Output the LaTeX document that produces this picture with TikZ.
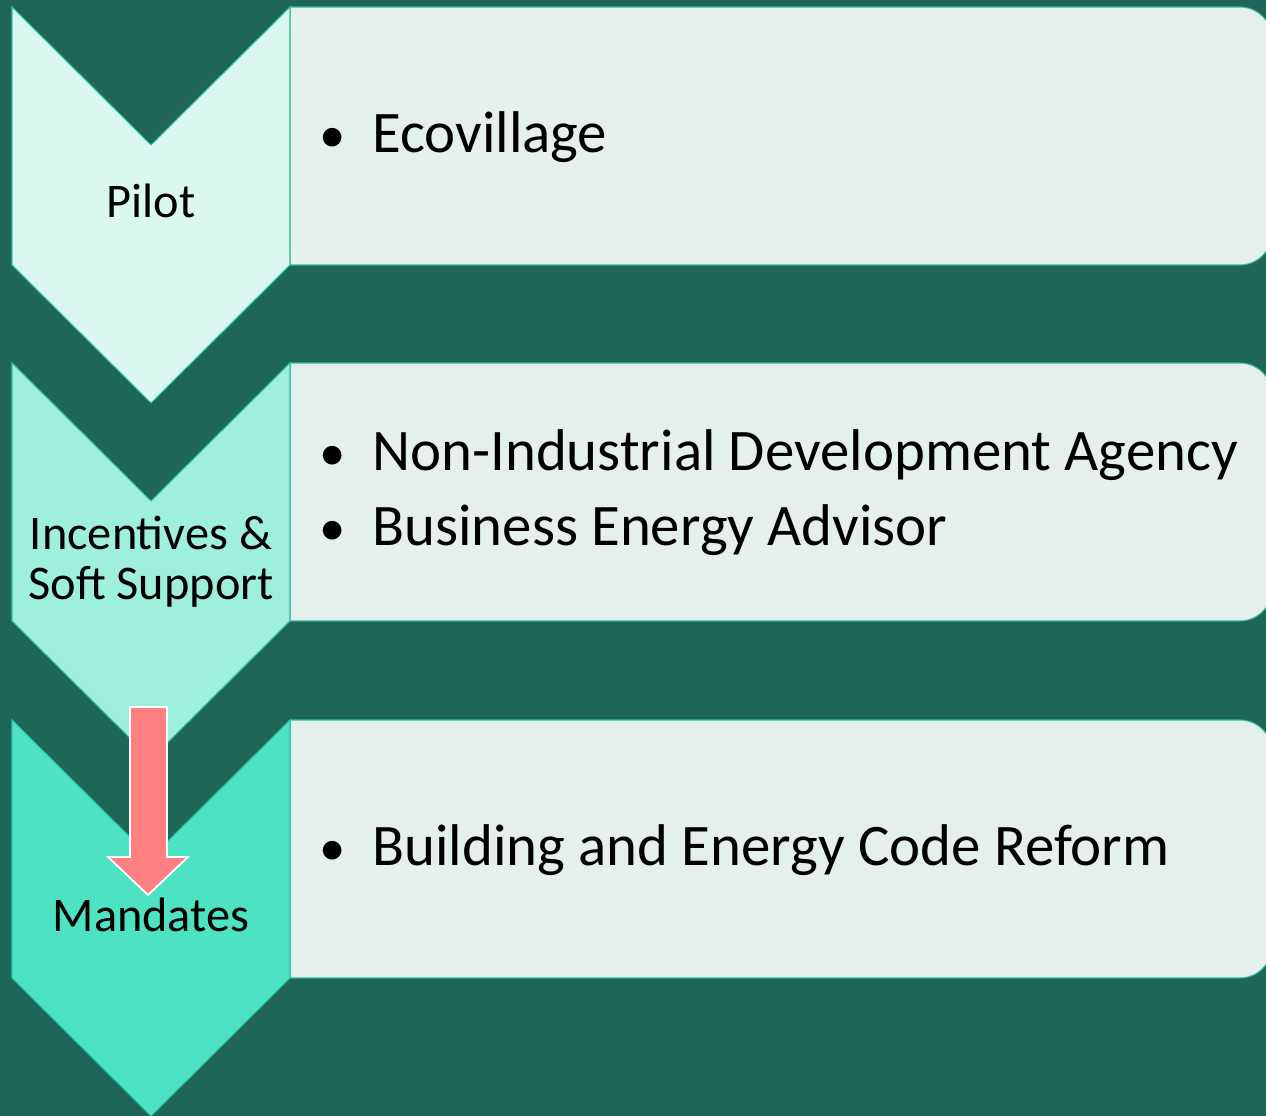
\documentclass[tikz,border=0pt]{standalone}
\usepackage{fontspec}
\setmainfont{Carlito}
\usetikzlibrary{positioning}
\definecolor{bgteal}{HTML}{1E6657}
\definecolor{stepA}{HTML}{DAF7F0}
\definecolor{stepB}{HTML}{9EEFDC}
\definecolor{stepC}{HTML}{4DE2C4}
\definecolor{stepline}{HTML}{2BC4A0}
\definecolor{boxfill}{HTML}{E5EFEC}
\definecolor{boxline}{HTML}{2BB896}
\definecolor{salmon}{HTML}{FF8080}
\tikzset{
  steplabel/.style={anchor=base, align=center, inner sep=0pt, font=\fontsize{27.5}{29}\selectfont},
  itemtext/.style={anchor=base west, inner sep=0pt, font=\fontsize{33.5}{36}\selectfont},
  itemdot/.style={anchor=base, inner sep=0pt, font=\fontsize{30}{36}\selectfont},
}

\begin{document}
\begin{tikzpicture}[x=0.2mm, y=0.2mm]
\fill[bgteal] (0,0) rectangle (1266,1116);
\useasboundingbox (0,0) rectangle (1266,1116);

% text boxes, rounded on the right
\foreach \t in {1109,753,396}
  \draw[boxline, fill=boxfill, line width=0.6pt] (290,\t-258) -- (290,\t) -- (1240,\t)
    arc[start angle=90, end angle=0, radius=6.4mm] -- (1272,\t-226)
    arc[start angle=0, end angle=-90, radius=6.4mm] -- cycle;

% chevrons
\foreach \t/\c in {1109/stepA,753/stepB,396/stepC}
  \draw[stepline, fill=\c, line width=0.6pt] (12,\t) -- (151,\t-138) -- (290,\t)
    -- (290,\t-258) -- (151,\t-396) -- (12,\t-258) -- cycle;

% block arrow
\draw[white, fill=salmon, line width=1pt] (130,409) -- (167,409) -- (167,259) -- (188,259)
  -- (148,221) -- (108,259) -- (130,259) -- cycle;

\node[steplabel] (pilot) at (151,898) {Pilot};
\node[steplabel] (incent) at (151,516) {Incentives \&\\Soft Support};
\node[steplabel] (mandate) at (151,184) {Mandates};

\node[itemdot] (dotA) at (333,963) {•};
\node[itemtext] (eco) at (372,963) {Ecovillage};
\node[itemdot] (dotB) at (333,645) {•};
\node[itemtext] (nida) at (372,645) {Non-Industrial Development Agency};
\node[itemdot] (dotC) at (333,570) {•};
\node[itemtext] (bea) at (372,570) {Business Energy Advisor};
\node[itemdot] (dotD) at (333,250) {•};
\node[itemtext] (code) at (372,250) {Building and Energy Code Reform};
\end{tikzpicture}
\end{document}
